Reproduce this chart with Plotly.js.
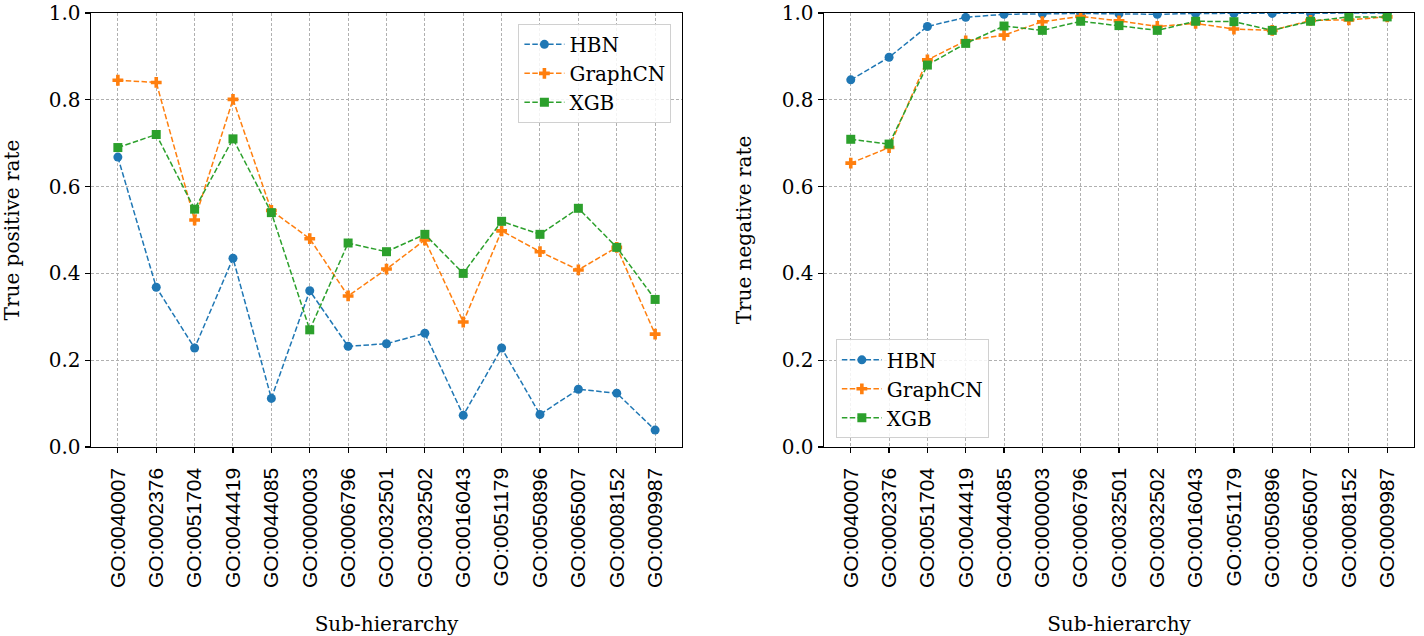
<!DOCTYPE html>
<html>
<head>
<meta charset="utf-8">
<script src="https://cdn.plot.ly/plotly-3.0.1.min.js"></script>
<style>html,body{margin:0;padding:0;background:#fff;}#chart{width:1424px;height:636px;}</style>
</head>
<body>
<div id="chart"></div>
<script>
const categories = ["GO:0040007","GO:0002376","GO:0051704","GO:0044419","GO:0044085","GO:0000003","GO:0006796","GO:0032501","GO:0032502","GO:0016043","GO:0051179","GO:0050896","GO:0065007","GO:0008152","GO:0009987"];

const tprHBN     = [0.668,0.368,0.228,0.435,0.112,0.360,0.232,0.238,0.262,0.073,0.228,0.075,0.133,0.124,0.039];
const tprGraphCN = [0.845,0.840,0.523,0.801,0.545,0.480,0.348,0.410,0.477,0.288,0.498,0.450,0.408,0.460,0.260];
const tprXGB     = [0.690,0.720,0.548,0.710,0.540,0.270,0.470,0.450,0.490,0.400,0.520,0.490,0.550,0.460,0.340];

const tnrHBN     = [0.846,0.898,0.969,0.990,0.997,0.998,0.999,0.998,0.997,0.999,0.999,0.999,0.999,1.000,1.000];
const tnrGraphCN = [0.654,0.690,0.892,0.936,0.949,0.980,0.992,0.982,0.969,0.976,0.963,0.960,0.983,0.984,0.991];
const tnrXGB     = [0.709,0.698,0.880,0.930,0.970,0.960,0.981,0.971,0.960,0.981,0.980,0.960,0.981,0.991,0.991];

const seriesNames = ["HBN","GraphCN","XGB"];
const colors = ["#1f77b4","#ff7f0e","#2ca02c"];
const symbols = ["circle","cross","square"];
const sizes = [9,9,9];

const xIdx = categories.map((_, i) => i);

function mk(y, k, xa, ya, leg) {
  return {
    x: xIdx, y: y, type: "scatter", mode: "lines+markers",
    name: seriesNames[k], xaxis: xa, yaxis: ya, legend: leg,
    line: {color: colors[k], width: 1.5, dash: "5.5px,2.4px"},
    marker: {color: colors[k], symbol: symbols[k], size: sizes[k]}
  };
}

const data = [
  mk(tprHBN,0,"x","y","legend"), mk(tprGraphCN,1,"x","y","legend"), mk(tprXGB,2,"x","y","legend"),
  mk(tnrHBN,0,"x2","y2","legend2"), mk(tnrGraphCN,1,"x2","y2","legend2"), mk(tnrXGB,2,"x2","y2","legend2")
];

const serif = "DejaVu Serif, serif";
const sans = "Liberation Sans, Arial, sans-serif";

function xax(dom, anchor) {
  return {
    domain: dom, anchor: anchor, range: [-0.7, 14.7],
    tickmode: "array", tickvals: xIdx, ticktext: categories, tickangle: -90,
    tickfont: {family: sans, size: 21, color: "#000"},
    ticks: "outside", ticklen: 5, tickwidth: 1.2, tickcolor: "#000",
    ticklabelstandoff: 6,
    showline: true, linecolor: "#000", linewidth: 1.4, mirror: true,
    showgrid: true, gridcolor: "#b0b0b0", griddash: "3px,2px", gridwidth: 1,
    zeroline: false, automargin: false,
    title: {text: "Sub-hierarchy", font: {family: serif, size: 20, color: "#000"}, standoff: 30}
  };
}
function yax(anchor, title) {
  return {
    anchor: anchor, range: [0, 1], tickvals: [0,0.2,0.4,0.6,0.8,1.0],
    ticktext: ["0.0","0.2","0.4","0.6","0.8","1.0"],
    tickfont: {family: serif, size: 20, color: "#000"},
    ticks: "outside", ticklen: 5, tickwidth: 1.2, tickcolor: "#000",
    showline: true, linecolor: "#000", linewidth: 1.4, mirror: true,
    showgrid: true, gridcolor: "#b0b0b0", griddash: "3px,2px", gridwidth: 1,
    zeroline: false, automargin: false,
    title: {text: title, font: {family: serif, size: 20, color: "#000"}, standoff: 24}
  };
}

const legendStyle = {
  font: {family: serif, size: 20, color: "#000"},
  bgcolor: "rgba(255,255,255,0.85)", bordercolor: "#d0d0d0", borderwidth: 1,
  tracegroupgap: 0, itemwidth: 40
};

const layout = {
  width: 1424, height: 636,
  margin: {l: 91, r: 10, t: 13, b: 189},
  paper_bgcolor: "#fff", plot_bgcolor: "#fff",
  showlegend: true,
  xaxis: xax([0, 0.4467], "y"),
  yaxis: yax("x", "True positive rate"),
  xaxis2: xax([0.554, 1], "y2"),
  yaxis2: yax("x2", "True negative rate"),
  legend: Object.assign({x: 0.4387, xanchor: "right", y: 0.975, yanchor: "top"}, legendStyle),
  legend2: Object.assign({x: 0.563, xanchor: "left", y: 0.02, yanchor: "bottom"}, legendStyle)
};

Plotly.newPlot("chart", data, layout, {displayModeBar: false, staticPlot: true});
</script>
</body>
</html>
